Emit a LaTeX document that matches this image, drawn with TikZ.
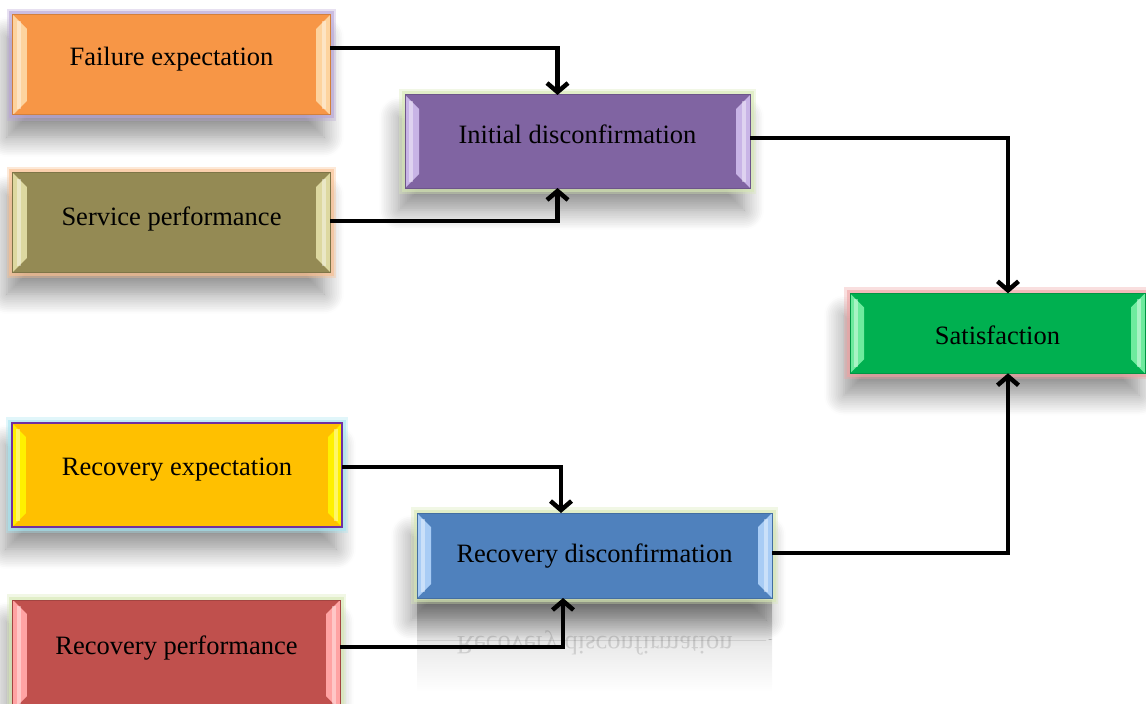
\documentclass[tikz,border=0pt]{standalone}
\usepackage{fontspec}
\setmainfont{Liberation Serif}
\usetikzlibrary{arrows.meta,shadows.blur}

\definecolor{failfill}{HTML}{F79646}
\definecolor{failglow}{HTML}{B9A6D6}
\definecolor{failbev}{HTML}{FDD39E}
\definecolor{servfill}{HTML}{948A54}
\definecolor{servglow}{HTML}{FAC090}
\definecolor{servbev}{HTML}{DDD8A0}
\definecolor{initfill}{HTML}{8064A2}
\definecolor{initglow}{HTML}{D7E8B5}
\definecolor{initbev}{HTML}{C8B4E6}
\definecolor{satfill}{HTML}{00B050}
\definecolor{satglow}{HTML}{EFA3A3}
\definecolor{satbev}{HTML}{6EEB9E}
\definecolor{rexpfill}{HTML}{FFC000}
\definecolor{rexpglow}{HTML}{A8E6F2}
\definecolor{rexpbev}{HTML}{FFF000}
\definecolor{rexpline}{HTML}{7030A0}
\definecolor{rdisfill}{HTML}{4F81BD}
\definecolor{rdisbev}{HTML}{A8CCF5}
\definecolor{rperffill}{HTML}{C0504D}
\definecolor{rperfbev}{HTML}{FFA3A3}

\tikzset{
  stage/.style n args={4}{rectangle, inner sep=0pt, outer sep=0pt,
    fill=#1, draw=#4, line width=1bp,
    blur shadow={shadow xshift=-6bp, shadow yshift=-22bp, shadow blur radius=20bp, shadow blur steps=12, shadow opacity=45},
    preaction={draw=#2, line width=12bp, opacity=.35},
    preaction={draw=#2, line width=7bp, opacity=.6},
    path picture={
      \fill[#3] (path picture bounding box.north west) -- ([shift={(14bp,-14bp)}]path picture bounding box.north west)
        -- ([shift={(14bp,14bp)}]path picture bounding box.south west) -- (path picture bounding box.south west) -- cycle;
      \fill[#3] (path picture bounding box.north east) -- ([shift={(-14bp,-14bp)}]path picture bounding box.north east)
        -- ([shift={(-14bp,14bp)}]path picture bounding box.south east) -- (path picture bounding box.south east) -- cycle;
      \fill[white, opacity=.4] ([shift={(4bp,-6bp)}]path picture bounding box.north west) rectangle ([shift={(8bp,6bp)}]path picture bounding box.south west);
      \fill[white, opacity=.4] ([shift={(-4bp,-6bp)}]path picture bounding box.north east) rectangle ([shift={(-8bp,6bp)}]path picture bounding box.south east);
    },
    font=\fontsize{26.5bp}{30bp}\selectfont, text=black, text height=24bp, text depth=24bp},
  flow/.style={-{Straight Barb[length=9bp,width=21bp]}, line width=4.5bp}
}

\begin{document}
\begin{tikzpicture}[x=1bp, y=-1bp]
  \useasboundingbox (0,0) rectangle (1146,704);

  % left column
  \node[stage={failfill}{failglow}{failbev}{failfill!85!black}, minimum width=317bp, minimum height=100bp, text depth=22.6bp](fexp) at (171.5,65) {Failure expectation};
  \node[stage={servfill}{servglow}{servbev}{servfill!85!black}, minimum width=317bp, minimum height=99bp, text depth=17.6bp](sperf) at (171.5,222.5) {Service performance};
  \node[stage={rexpfill}{rexpglow}{rexpbev}{rexpline}, line width=2bp, minimum width=330bp, minimum height=104bp](rexp) at (177,475) {Recovery expectation};
  \node[stage={rperffill}{initglow}{rperfbev}{rperffill!85!black}, minimum width=327bp, minimum height=110bp, text depth=26bp](rperf) at (176.5,655) {Recovery performance};

  % reflection under the recovery box
  \fill[top color=black!28, bottom color=white, middle color=black!8] (417,600) rectangle (772,692);
  \node[font=\fontsize{26.5bp}{30bp}\selectfont, text=black, text opacity=.13, yscale=-1, transform shape](rdisflip) at (594.5,643) {Recovery disconfirmation};

  % middle and right
  \node[stage={initfill}{initglow}{initbev}{initfill!85!black}, minimum width=345bp, minimum height=93bp, text depth=19bp](idis) at (577.5,141.5) {Initial disconfirmation};
  \node[stage={rdisfill}{initglow}{rdisbev}{rdisfill!85!black}, minimum width=355bp, minimum height=85bp, text depth=11bp](rdis) at (594.5,555.5) {Recovery disconfirmation};
  \node[stage={satfill}{satglow}{satbev}{satfill!85!black}, minimum width=295bp, minimum height=80bp, text depth=2.6bp](sat) at (997.5,333.3) {Satisfaction};

  \draw[flow] ([yshift=17bp]fexp.east) -| ([xshift=-20bp]idis.north);
  \draw[flow] ([yshift=1.5bp]sperf.east) -| ([xshift=-20bp]idis.south);
  \draw[flow] ([yshift=3.5bp]idis.east) -| ([xshift=10.5bp]sat.north);
  \draw[flow] ([yshift=8bp]rexp.east) -| ([xshift=-33.5bp]rdis.north);
  \draw[flow] ([yshift=8bp]rperf.east) -| ([xshift=-31.5bp]rdis.south);
  \draw[flow] ([yshift=2.5bp]rdis.east) -| ([xshift=10.5bp]sat.south);
\end{tikzpicture}
\end{document}
